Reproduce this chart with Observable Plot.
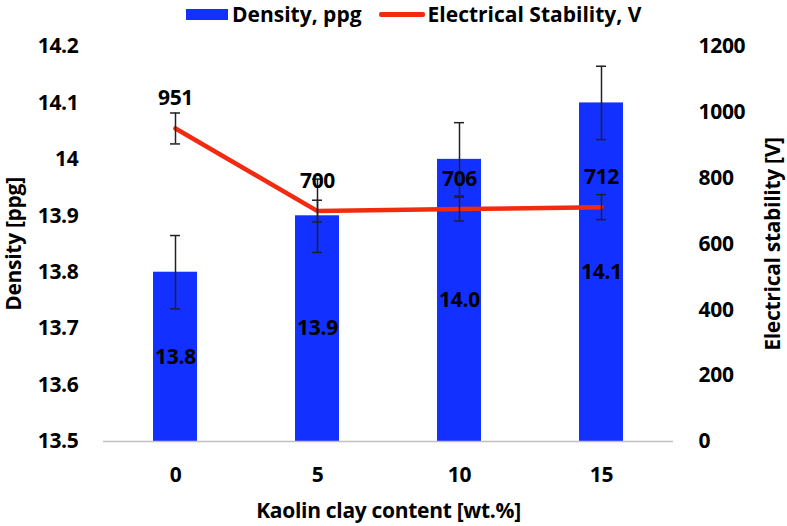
<!DOCTYPE html>
<html>
<head>
<meta charset="utf-8">
<script src="https://cdn.jsdelivr.net/npm/d3@7"></script>
<script src="https://cdn.jsdelivr.net/npm/@observablehq/plot@0.6"></script>
<style>
  body { margin: 0; background: #fff; font-family: "Open Sans", sans-serif; font-weight: 700; }
  #legend { height: 28px; display: flex; align-items: center; padding-left: 186px; font-size: 21px; line-height: 1; color: #000; }
  #legend .sw-bar { width: 42px; height: 11px; background: #1230ff; margin-right: 4px; }
  #legend .sw-line { width: 46px; height: 5px; background: #f22b10; border-radius: 2px; margin: 0 3px 0 17px; }
</style>
</head>
<body>
<div id="legend">
  <span class="sw-bar"></span><span>Density, ppg</span>
  <span class="sw-line"></span><span>Electrical Stability, V</span>
</div>
<div id="chart"></div>
<script>
// categories and values
const clay = ["0", "5", "10", "15"]
const density = [13.8, 13.9, 14.0, 14.1]
const densityErr = [0.065, 0.065, 0.065, 0.065]
const stability = [951, 700, 706, 712]
const stabilityErr = [47, 33, 36, 38]

// axis ranges
const yMin = 13.5, yMax = 14.2
const vMax = 1200
const leftTicks = [13.5, 13.6, 13.7, 13.8, 13.9, 14.0, 14.1, 14.2]
const rightTicks = [0, 200, 400, 600, 800, 1000, 1200]

const blue = "#1230ff"
const red = "#f22b10"

const rows = clay.map((c, i) => ({
  clay: c, density: density[i], dErr: densityErr[i], es: stability[i], esErr: stabilityErr[i]
}))

// put the voltage on the density scale (right axis)
const ev = v => yMin + v / vMax * (yMax - yMin)

const err = {stroke: "#222", strokeWidth: 1.5}
const cap = {...err, insetLeft: 17, insetRight: 17}

let chart = Plot.plot({
  width: 787,
  height: 498,
  marginTop: 18,
  marginBottom: 85,
  marginLeft: 103,
  marginRight: 114,
  style: {fontFamily: "'Open Sans', sans-serif", fontWeight: "700", fontSize: "21px", color: "#000", background: "#fff", letterSpacing: "-0.3px"},
  x: {domain: clay, paddingInner: 0.69, paddingOuter: 0.345},
  y: {domain: [yMin, yMax]},
  marks: [
    Plot.barY(rows, {x: "clay", y1: yMin, y2: "density", fill: blue}),
    Plot.ruleY([yMin], {stroke: "#c0c0c0", strokeWidth: 1.5}),
    Plot.text(rows, {x: "clay", y: d => (yMin + d.density) / 2, text: d => d.density.toFixed(1), fill: "#000"}),
    Plot.line(rows, {x: "clay", y: d => ev(d.es), stroke: red, strokeWidth: 4.5}),
    // error bars
    Plot.ruleX(rows, {x: "clay", y1: d => d.density - d.dErr, y2: d => d.density + d.dErr, ...err}),
    Plot.tickY(rows, {x: "clay", y: d => d.density - d.dErr, ...cap}),
    Plot.tickY(rows, {x: "clay", y: d => d.density + d.dErr, ...cap}),
    Plot.ruleX(rows, {x: "clay", y1: d => ev(d.es - d.esErr), y2: d => ev(d.es + d.esErr), ...err}),
    Plot.tickY(rows, {x: "clay", y: d => ev(d.es - d.esErr), ...cap}),
    Plot.tickY(rows, {x: "clay", y: d => ev(d.es + d.esErr), ...cap}),
    Plot.text(rows, {x: "clay", y: d => ev(d.es), text: d => String(d.es), dy: -30, fill: "#000"}),
    // axes
    Plot.axisX({tickSize: 0, tickPadding: 26, label: null}),
    Plot.axisY({anchor: "left", ticks: leftTicks, tickFormat: d => String(+d.toFixed(1)), tickSize: 0, tickPadding: 25, label: null}),
    Plot.axisY({anchor: "right", ticks: rightTicks.map(ev), tickFormat: d => String(Math.round((d - yMin) / (yMax - yMin) * vMax)), tickSize: 0, tickPadding: 25, label: null}),
    // axis titles
    Plot.text(["Density [ppg]"], {frameAnchor: "left", dx: -89, rotate: -90, textAnchor: "middle", lineAnchor: "middle", fill: "#000"}),
    Plot.text(["Electrical stability [V]"], {frameAnchor: "right", dx: 100, rotate: -90, textAnchor: "middle", lineAnchor: "middle", fill: "#000"}),
    Plot.text(["Kaolin clay content [wt.%]"], {frameAnchor: "bottom", dy: 70, textAnchor: "middle", lineAnchor: "middle", fill: "#000"})
  ]
})

d3.select('#chart').append(() => chart)
</script>
</body>
</html>
